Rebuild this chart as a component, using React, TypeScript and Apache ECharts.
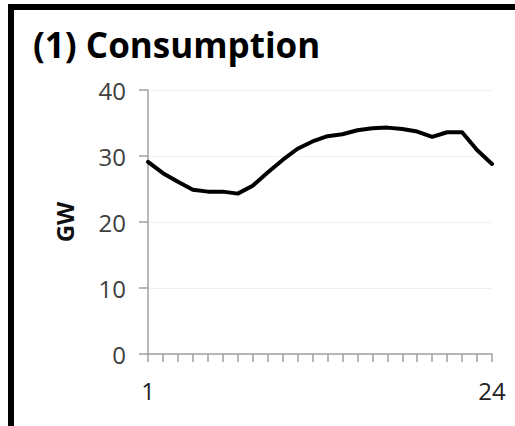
import React, { useEffect, useRef } from "react";
import * as echarts from "echarts";

const hours = ["1","2","3","4","5","6","7","8","9","10","11","12","13","14","15","16","17","18","19","20","21","22","23","24"];
const consumption = [29.1, 27.4, 26.1, 24.9, 24.6, 24.6, 24.3, 25.5, 27.5, 29.4, 31.1, 32.2, 33.0, 33.3, 33.9, 34.2, 34.3, 34.1, 33.7, 32.9, 33.6, 33.6, 30.9, 28.8];
const titleText = "(1) Consumption";
const yName = "GW";

export default function App() {
  const ref = useRef<HTMLDivElement>(null);
  useEffect(() => {
    const chart = echarts.init(ref.current!, null, { renderer: "svg" });
    chart.setOption({
      animation: false,
      backgroundColor: "#ffffff",
      title: {
        text: titleText,
        left: 28,
        top: 22,
        textStyle: { fontFamily: "Open Sans", fontWeight: "bold", fontSize: 35, color: "#000" },
      },
      graphic: [
        { type: "rect", shape: { x: 8, y: 4, width: 507, height: 6 }, style: { fill: "#000" } },
        { type: "rect", shape: { x: 8, y: 4, width: 6, height: 422 }, style: { fill: "#000" } },
      ],
      grid: { left: 148, right: 23, top: 90, bottom: 72 },
      xAxis: {
        type: "category",
        data: hours,
        boundaryGap: false,
        axisLine: { lineStyle: { color: "#a0a0a0", width: 1.5 } },
        axisTick: { show: true, interval: 0, length: 8, lineStyle: { color: "#a0a0a0", width: 1.5 } },
        axisLabel: {
          interval: (i: number) => i === 0 || i === hours.length - 1,
          fontFamily: "Open Sans",
          fontSize: 24,
          color: "#222",
          margin: 24,
        },
        splitLine: { show: false },
      },
      yAxis: {
        type: "value",
        min: 0,
        max: 40,
        interval: 10,
        name: yName,
        nameLocation: "middle",
        nameRotate: 90,
        nameGap: 72,
        nameTextStyle: { fontFamily: "Open Sans", fontWeight: "bold", fontSize: 24, color: "#111" },
        axisLine: { show: true, lineStyle: { color: "#a0a0a0", width: 1.5 } },
        axisTick: { show: true, length: 9, lineStyle: { color: "#a0a0a0", width: 1.5 } },
        axisLabel: { fontFamily: "Open Sans", fontSize: 24, color: "#404040", margin: 22 },
        splitLine: { show: true, lineStyle: { color: "#f0f0f0", width: 1 } },
      },
      series: [
        {
          type: "line",
          data: consumption,
          symbol: "none",
          lineStyle: { color: "#000", width: 4, cap: "round", join: "round" },
        },
      ],
    });
    return () => chart.dispose();
  }, []);
  return <div ref={ref} style={{ position: "absolute", left: 0, top: 0, width: 515, height: 426 }} />;
}
